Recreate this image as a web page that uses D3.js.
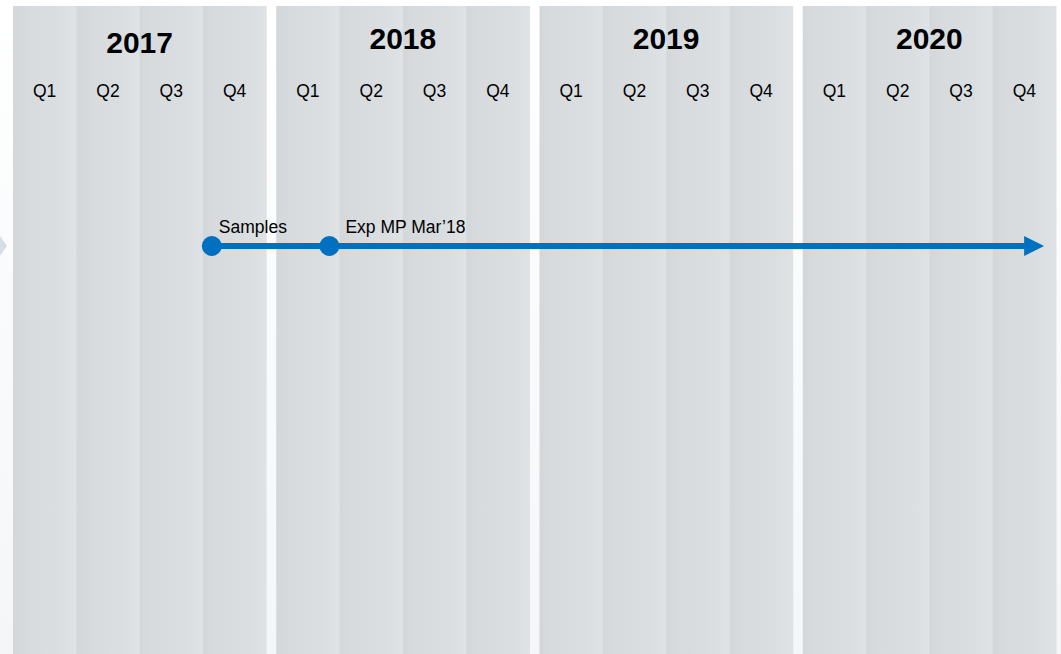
<!DOCTYPE html>
<html>
<head>
<meta charset="utf-8">
<title>timeline</title>
<script src="https://d3js.org/d3.v7.min.js"></script>
<style>
  html, body { margin: 0; padding: 0; background: #fff; }
  svg { display: block; font-family: "Liberation Sans", Arial, sans-serif; }
</style>
</head>
<body>
<script>
const width = 1061;
const height = 654;

// data
const years = [2017, 2018, 2019, 2020];
const quarters = ["Q1", "Q2", "Q3", "Q4"];
const milestoneLabels = ["Samples", "Exp MP Mar\u201918"];
const milestoneDates = [2017.785, 2018.21];   // fractional year
const arrowEnd = 2020.953;

const svg = d3.select("body").append("svg")
  .attr("width", width)
  .attr("height", height);

const defs = svg.append("defs");

// page background: white fading to a light grey-blue
const bg = defs.append("linearGradient").attr("id", "bg")
  .attr("x1", 0).attr("y1", 0).attr("x2", 0).attr("y2", 1);
bg.append("stop").attr("offset", "0%").attr("stop-color", "#ffffff");
bg.append("stop").attr("offset", "100%").attr("stop-color", "#f4f6f8");

// quarter column shading: darker at left, lighter at right
const qg = defs.append("linearGradient").attr("id", "qcol")
  .attr("x1", 0).attr("y1", 0).attr("x2", 1).attr("y2", 0);
qg.append("stop").attr("offset", "0%").attr("stop-color", "#d3d7da");
qg.append("stop").attr("offset", "20%").attr("stop-color", "#d7dbde");
qg.append("stop").attr("offset", "70%").attr("stop-color", "#dadee1");
qg.append("stop").attr("offset", "100%").attr("stop-color", "#dfe3e6");

svg.append("rect").attr("width", width).attr("height", height).attr("fill", "url(#bg)");

// small chevron at the left edge
svg.append("path")
  .attr("d", "M0,236 L7,246 L0,256 Z")
  .attr("fill", "#d8dee6");

// scales
const xYear = d3.scaleBand().domain(years).range([13, 1056]).paddingInner(0.038);
const xQuarter = d3.scaleBand().domain(quarters).range([0, xYear.bandwidth()]);
const xTime = t => {
  const y = Math.floor(t);
  return xYear(y) + (t - y) * xYear.bandwidth();
};

const panelTop = 6;

const yearG = svg.selectAll("g.year")
  .data(years)
  .join("g")
  .attr("class", "year")
  .attr("transform", d => `translate(${xYear(d)},${panelTop})`);

yearG.selectAll("rect")
  .data(quarters)
  .join("rect")
  .attr("x", q => xQuarter(q))
  .attr("width", xQuarter.bandwidth() + 0.5)
  .attr("height", height - panelTop)
  .attr("fill", "url(#qcol)");

yearG.append("text")
  .attr("x", xYear.bandwidth() / 2)
  .attr("y", (d, i) => i === 0 ? 47 : 43)
  .attr("text-anchor", "middle")
  .attr("font-size", 30)
  .attr("font-weight", "bold")
  .attr("fill", "#000")
  .text(d => d);

yearG.selectAll("text.q")
  .data(quarters)
  .join("text")
  .attr("class", "q")
  .attr("x", q => xQuarter(q) + xQuarter.bandwidth() / 2)
  .attr("y", 91)
  .attr("text-anchor", "middle")
  .attr("font-size", 17.5)
  .attr("fill", "#000")
  .text(q => q);

// timeline
const lineY = 246;
const blue = "#0070c0";
const tipX = xTime(arrowEnd);

svg.append("line")
  .attr("x1", xTime(milestoneDates[0]))
  .attr("x2", tipX - 18)
  .attr("y1", lineY).attr("y2", lineY)
  .attr("stroke", blue)
  .attr("stroke-width", 6);

svg.append("path")
  .attr("d", `M${tipX},${lineY} L${tipX - 20},${lineY - 10} L${tipX - 20},${lineY + 10} Z`)
  .attr("fill", blue);

svg.selectAll("circle.ms")
  .data(milestoneDates)
  .join("circle")
  .attr("class", "ms")
  .attr("cx", d => xTime(d))
  .attr("cy", lineY)
  .attr("r", 10)
  .attr("fill", blue);

svg.selectAll("text.ms")
  .data(milestoneDates)
  .join("text")
  .attr("class", "ms")
  .attr("x", (d, i) => xTime(d) + (i === 0 ? 7 : 16))
  .attr("y", 233)
  .attr("font-size", 17.5)
  .attr("fill", "#000")
  .text((d, i) => milestoneLabels[i]);
</script>
</body>
</html>
